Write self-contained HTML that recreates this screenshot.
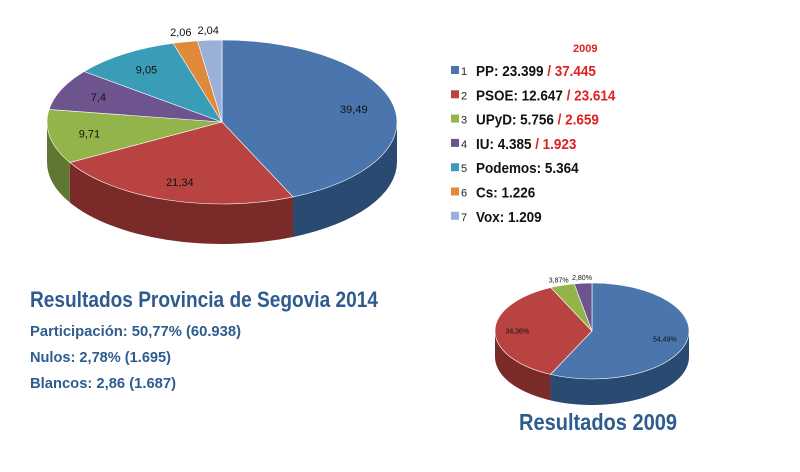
<!DOCTYPE html>
<html><head><meta charset="utf-8"><style>
body{margin:0;background:#fff}
svg{display:block}
text{font-family:"Liberation Sans Narrow","Liberation Sans",sans-serif}
</style></head><body>
<svg id="c" width="800" height="472" viewBox="0 0 800 472">
<g id="main"></g>
<g id="small"></g>
<g id="legend">
<text x="573" y="52" font-size="11" fill="#e02020" font-weight="bold">2009</text>
</g>
<text x="30" y="307" font-size="22" font-weight="bold" fill="#2e5c8f" textLength="348" lengthAdjust="spacingAndGlyphs">Resultados Provincia de Segovia 2014</text>
<text x="30" y="336" font-size="15" font-weight="bold" fill="#2e5c8f" textLength="211" lengthAdjust="spacingAndGlyphs">Participación: 50,77% (60.938)</text>
<text x="30" y="362" font-size="15" font-weight="bold" fill="#2e5c8f" textLength="141" lengthAdjust="spacingAndGlyphs">Nulos: 2,78% (1.695)</text>
<text x="30" y="388" font-size="15" font-weight="bold" fill="#2e5c8f" textLength="146" lengthAdjust="spacingAndGlyphs">Blancos: 2,86 (1.687)</text>
<text x="519" y="430" font-size="23" font-weight="bold" fill="#2e5c8f" textLength="158" lengthAdjust="spacingAndGlyphs">Resultados 2009</text>
</svg>
<script>
const parties=["PP","PSOE","UPyD","IU","Podemos","Cs","Vox"];
const votes2014=[23399,12647,5756,4385,5364,1226,1209];
const votes2009=[37445,23614,2659,1923,null,null,null];
const pct2014=[39.49,21.34,9.71,7.4,9.05,2.06,2.04];
const labels2014=["39,49","21,34","9,71","7,4","9,05","2,06","2,04"];
const pct2009=[54.49,34.36,3.87,2.80];
const labels2009=["54,49%","34,36%","3,87%","2,80%"];
const colors=["#4a76ad","#b94340","#93b44a","#6e548f","#3a9db8","#e0893a","#9bb0d8"];
const sides=["#2b4a72","#7a2a28","#5f7730","#47365e","#256778","#935a26","#6a7a98"];
const NS="http://www.w3.org/2000/svg";
function mk(t,a,p){const e=document.createElementNS(NS,t);for(const k in a)e.setAttribute(k,a[k]);p.appendChild(e);return e;}
function pie(g,vals,labels,cx,cy,rx,ry,d,fs,prefix){
 const tot=vals.reduce((a,b)=>a+b,0);
 let a0=-Math.PI/2;const sl=[];
 vals.forEach((v,i)=>{const a1=a0+v/tot*2*Math.PI;sl.push([a0,a1]);a0=a1;});
 const P=(t,dy)=>[cx+rx*Math.cos(t),cy+ry*Math.sin(t)+(dy||0)];
 sl.forEach(([s,e],i)=>{
  for(const off of [0,2*Math.PI]){
   const lo=Math.max(s-off,0),hi=Math.min(e-off,Math.PI);
   if(hi<=lo)continue;
   const p1=P(lo),p2=P(hi),p3=P(hi,d),p4=P(lo,d);
   const el=mk("path",{d:`M${p1} A${rx},${ry} 0 0 1 ${p2} L${p3} A${rx},${ry} 0 0 0 ${p4} Z`,fill:sides[i]},g);
   
   
  }
 });
 sl.forEach(([s,e],i)=>{
  const p1=P(s),p2=P(e),large=(e-s)>Math.PI?1:0;
  const el=mk("path",{d:`M${cx},${cy} L${p1} A${rx},${ry} 0 ${large} 1 ${p2} Z`,fill:colors[i],stroke:"#fff","stroke-width":"0.6"},g);
  
  
  const m=(s+e)/2,frac=(e-s)/(2*Math.PI);const r=frac<0.05?1.12:0.77;
  const t=mk("text",{x:cx+rx*r*Math.cos(m),y:cy+ry*r*Math.sin(m)+fs*0.35,"font-size":fs,"text-anchor":"middle",fill:"#111"},g);
  t.textContent=labels[i];
  
  
 });
}
pie(document.getElementById("main"),pct2014,labels2014,222,122,175,82,40,11,"pie2014");
pie(document.getElementById("small"),pct2009,labels2009,592,331,97,48,26,7,"pie2009");
const lg=document.getElementById("legend");
parties.forEach((p,i)=>{
 const y=75+i*24.3;
 const r=mk("rect",{x:451,y:y-9,width:8,height:8,fill:colors[i]},lg);
 
 
 const n=mk("text",{x:461,y:y,"font-size":11,fill:"#222"},lg);n.textContent=i+1;
 
 
 const t=mk("text",{x:476,y:y+1,"font-size":15,"font-weight":"bold",fill:"#111",transform:"translate(476,0) scale(0.9,1) translate(-476,0)"},lg);
 
 
 t.appendChild(document.createTextNode(p+": "+votes2014[i].toLocaleString("de-DE")));
 if(votes2009[i]!=null){const s=document.createElementNS(NS,"tspan");s.setAttribute("fill","#e02020");s.textContent=" / "+votes2009[i].toLocaleString("de-DE");t.appendChild(s);}
});
</script>
</body></html>
